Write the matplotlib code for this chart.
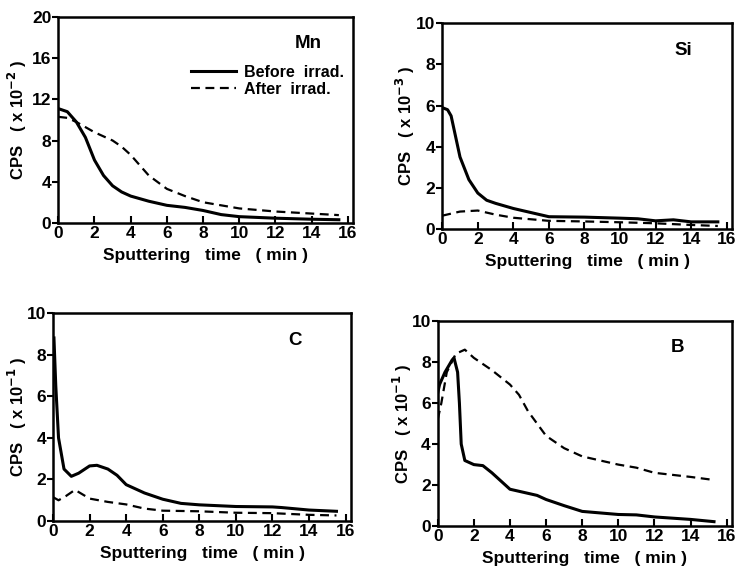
import matplotlib
matplotlib.use("Agg")
import matplotlib.pyplot as plt

plt.rcParams['font.family'] = ['Liberation Sans', 'DejaVu Sans']
plt.rcParams['font.weight'] = 'bold'

# Mn (x10^-2)
mn_t_before = [0, 0.5, 1, 1.5, 2, 2.5, 3, 3.5, 4, 5, 6, 7, 8, 9, 10, 12, 14, 15.5]
mn_before = [11.1, 10.8, 9.8, 8.3, 6.1, 4.6, 3.6, 3.0, 2.6, 2.1, 1.7, 1.5, 1.2, 0.8, 0.6, 0.45, 0.35, 0.3]
mn_t_after = [0, 0.5, 1, 2, 3, 3.5, 4, 5, 6, 7, 8, 9, 10, 12, 14, 15.5]
mn_after = [10.3, 10.2, 9.8, 8.8, 8.0, 7.4, 6.6, 4.6, 3.3, 2.6, 2.0, 1.7, 1.4, 1.1, 0.9, 0.75]

# Si (x10^-3)
si_t_before = [0, 0.3, 0.5, 0.8, 1, 1.5, 2, 2.5, 3, 4, 5, 6, 8, 10, 11, 12, 13, 14, 15.5]
si_before = [5.9, 5.8, 5.5, 4.3, 3.5, 2.4, 1.75, 1.4, 1.25, 1.0, 0.8, 0.6, 0.58, 0.53, 0.5, 0.4, 0.45, 0.35, 0.35]
si_t_after = [0, 1, 2, 3, 4, 6, 8, 10, 12, 14, 15.5]
si_after = [0.65, 0.85, 0.9, 0.7, 0.55, 0.4, 0.37, 0.33, 0.28, 0.2, 0.15]

# C (x10^-1)
c_t_before = [0.05, 0.15, 0.3, 0.6, 1.0, 1.4, 2, 2.4, 3, 3.5, 4, 5, 6, 7, 8, 9, 10, 12, 12.5, 14, 15.5]
c_before = [8.8, 6.5, 4.0, 2.5, 2.15, 2.3, 2.65, 2.68, 2.5, 2.2, 1.75, 1.35, 1.05, 0.85, 0.78, 0.74, 0.7, 0.68, 0.65, 0.53, 0.47]
c_t_after = [0, 0.3, 0.7, 1.2, 2, 3, 4, 5, 6, 8, 10, 12, 14, 15.5]
c_after = [1.15, 1.0, 1.2, 1.5, 1.08, 0.92, 0.8, 0.6, 0.5, 0.47, 0.4, 0.38, 0.3, 0.27]

# B (x10^-1)
b_t_before = [0, 0.1, 0.4, 0.8, 0.9, 1.1, 1.2, 1.3, 1.5, 2, 2.5, 3, 3.5, 4, 5, 5.5, 6, 7, 8, 10, 11, 12, 14, 15.3]
b_before = [6.5, 6.9, 7.5, 8.1, 8.2, 7.5, 6.0, 4.0, 3.2, 3.0, 2.95, 2.6, 2.2, 1.8, 1.6, 1.5, 1.3, 1.0, 0.72, 0.57, 0.55, 0.45, 0.33, 0.22]
b_t_after = [0, 0.2, 0.5, 1, 1.5, 2, 3, 4, 4.5, 5, 5.5, 6, 7, 8, 9, 10, 11, 12, 13, 14, 15.3]
b_after = [5.2, 6.0, 7.5, 8.4, 8.6, 8.2, 7.6, 6.9, 6.4, 5.6, 5.0, 4.4, 3.8, 3.4, 3.2, 3.0, 2.85, 2.6, 2.5, 2.4, 2.25]

panels = [
    ("Mn", "-2", 20, [0, 4, 8, 12, 16, 20], mn_t_before, mn_before, mn_t_after, mn_after,
     [0.078, 0.607, 0.395, 0.363], (0.80, 0.85), -0.14),
    ("Si", "-3", 10, [0, 2, 4, 6, 8, 10], si_t_before, si_before, si_t_after, si_after,
     [0.592, 0.596, 0.388, 0.363], (0.80, 0.845), -0.128),
    ("C", "-1", 10, [0, 2, 4, 6, 8, 10], c_t_before, c_before, c_t_after, c_after,
     [0.071, 0.081, 0.399, 0.367], (0.79, 0.846), -0.121),
    ("B", "-1", 10, [0, 2, 4, 6, 8, 10], b_t_before, b_before, b_t_after, b_after,
     [0.586, 0.072, 0.394, 0.362], (0.79, 0.85), -0.119),
]

fig = plt.figure(figsize=(7.47, 5.67), dpi=100)

for name, exp, ymax, yt, tb, yb, ta, ya, rect, lab, ylx in panels:
    ax = fig.add_axes(rect)
    ax.plot(tb, yb, color="black", lw=2.2, label="Before  irrad.")
    ax.plot(ta, ya, color="black", lw=1.6, ls=(0, (4, 2.5)), label="After  irrad.")
    ax.set_xlim(0, 16.3)
    ax.set_ylim(0, ymax)
    ax.set_xticks(range(0, 17, 2))
    ax.set_yticks(yt)
    for s in ax.spines.values():
        s.set_linewidth(1.8)
    ax.tick_params(axis="x", direction="in", length=5, width=1.5, labelsize=12.5, pad=2)
    ax.tick_params(axis="y", direction="out", length=4, width=1.5, labelsize=12.5, pad=1)
    ax.set_xlabel("Sputtering   time   ( min )", fontsize=12.5, fontweight="bold", labelpad=5)
    ax.set_ylabel("CPS   ( x 10$^{%s}$ )" % exp, fontsize=12, fontweight="bold", va="center")
    ax.yaxis.set_label_coords(ylx, 0.5)
    ax.text(lab[0], lab[1], name, transform=ax.transAxes, fontsize=13.5, fontweight="bold")
    if name == "Mn":
        ax.legend(loc="upper right", bbox_to_anchor=(1.0, 0.815), frameon=False,
                  fontsize=11.5, handlelength=2.8, handletextpad=0.5, labelspacing=0.15,
                  borderaxespad=0.2)

fig.savefig("out.png", dpi=100)
